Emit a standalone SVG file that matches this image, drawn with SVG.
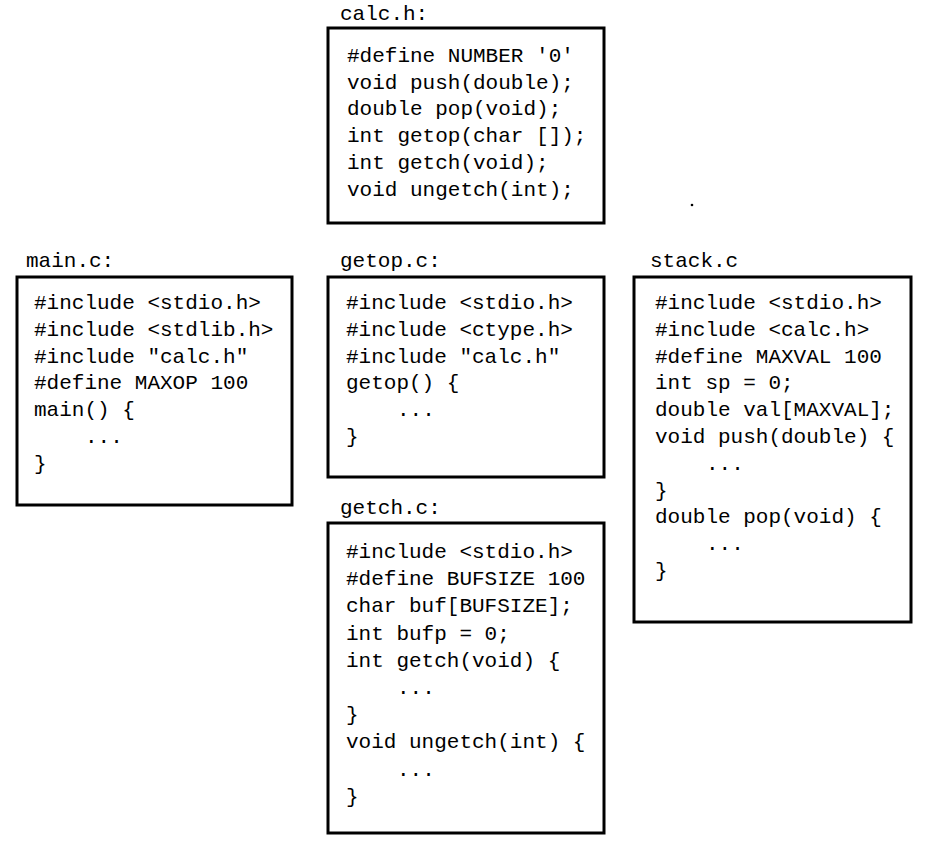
<svg xmlns="http://www.w3.org/2000/svg" width="935" height="855" viewBox="0 0 935 855">
<style>
  .box { fill: #ffffff; stroke: #000000; stroke-width: 3; }
  text { font-family: "Liberation Mono", "DejaVu Sans Mono", monospace; font-size: 21px; fill: #000000; }
</style>
<rect x="0" y="0" width="935" height="855" fill="#ffffff"/>
<g id="calc_h">
  <text x="340" y="20">calc.h:</text>
  <rect class="box" x="328" y="28" width="276" height="195"/>
  <text x="347" y="62">#define NUMBER '0'</text>
  <text x="347" y="88.7">void push(double);</text>
  <text x="347" y="115.4">double pop(void);</text>
  <text x="347" y="142.1">int getop(char []);</text>
  <text x="347" y="168.8">int getch(void);</text>
  <text x="347" y="195.5">void ungetch(int);</text>
</g>
<circle cx="692" cy="205" r="1.3" fill="#000000"/>
<g id="main_c">
  <text x="26" y="267">main.c:</text>
  <rect class="box" x="17" y="277" width="275" height="228"/>
  <text x="34" y="309">#include &lt;stdio.h&gt;</text>
  <text x="34" y="335.8">#include &lt;stdlib.h&gt;</text>
  <text x="34" y="362.6">#include "calc.h"</text>
  <text x="34" y="389.4">#define MAXOP 100</text>
  <text x="34" y="416.2">main() {</text>
  <text x="85" y="443">...</text>
  <text x="34" y="469.8">}</text>
</g>
<g id="getop_c">
  <text x="340" y="267">getop.c:</text>
  <rect class="box" x="328" y="277" width="276" height="200"/>
  <text x="346" y="309">#include &lt;stdio.h&gt;</text>
  <text x="346" y="335.8">#include &lt;ctype.h&gt;</text>
  <text x="346" y="362.6">#include "calc.h"</text>
  <text x="346" y="389.4">getop() {</text>
  <text x="397" y="416.2">...</text>
  <text x="346" y="443">}</text>
</g>
<g id="stack_c">
  <text x="650" y="267">stack.c</text>
  <rect class="box" x="634" y="277" width="277" height="345"/>
  <text x="655" y="309">#include &lt;stdio.h&gt;</text>
  <text x="655" y="335.8">#include &lt;calc.h&gt;</text>
  <text x="655" y="362.6">#define MAXVAL 100</text>
  <text x="655" y="389.4">int sp = 0;</text>
  <text x="655" y="416.2">double val[MAXVAL];</text>
  <text x="655" y="443">void push(double) {</text>
  <text x="706" y="469.8">...</text>
  <text x="655" y="496.6">}</text>
  <text x="655" y="523.4">double pop(void) {</text>
  <text x="706" y="550.2">...</text>
  <text x="655" y="577">}</text>
</g>
<g id="getch_c">
  <text x="340" y="514">getch.c:</text>
  <rect class="box" x="328" y="523" width="276" height="310"/>
  <text x="346" y="558">#include &lt;stdio.h&gt;</text>
  <text x="346" y="585.2">#define BUFSIZE 100</text>
  <text x="346" y="612.4">char buf[BUFSIZE];</text>
  <text x="346" y="639.6">int bufp = 0;</text>
  <text x="346" y="666.8">int getch(void) {</text>
  <text x="397" y="694">...</text>
  <text x="346" y="721.2">}</text>
  <text x="346" y="748.4">void ungetch(int) {</text>
  <text x="397" y="775.6">...</text>
  <text x="346" y="802.8">}</text>
</g>
<g id="connectors"></g>
</svg>
